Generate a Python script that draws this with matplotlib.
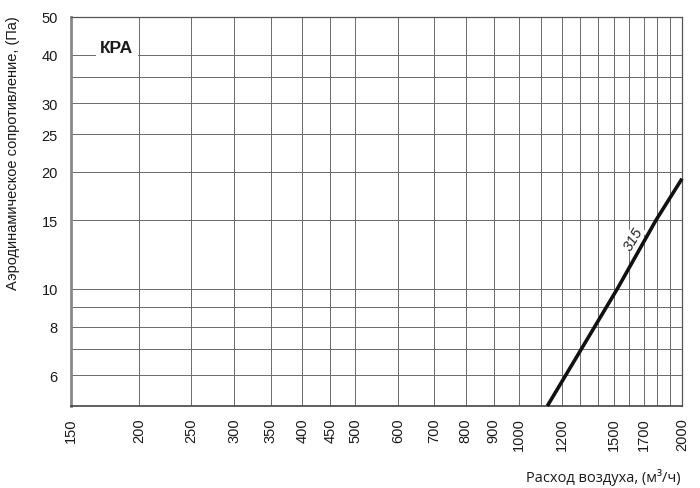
import numpy as np
import matplotlib
matplotlib.use("Agg")
import matplotlib.pyplot as plt
from matplotlib.ticker import FixedLocator, NullFormatter, FixedFormatter

# axis ticks
X_TICKS = [150, 200, 250, 300, 350, 400, 450, 500, 600, 700, 800, 900,
           1000, 1200, 1500, 1700, 2000]
X_MINOR = [1100, 1300, 1400, 1600, 1800, 1900]
Y_TICKS = [6, 8, 10, 15, 20, 25, 30, 40, 50]
Y_MINOR = [7, 9, 35]

# curve "315": air flow (m3/h) vs pressure drop (Pa)
flow_315 = [1130, 1520, 1790, 2000]
drop_315 = [5.0, 10.0, 15.0, 19.2]
label_315 = (1700, 13.0)

plt.rcParams["font.family"] = ["Liberation Sans", "DejaVu Sans"]

fig = plt.figure(figsize=(7, 4.89), dpi=100)
ax = fig.add_axes([0.1014, 0.1677, 0.8729, 0.7955])
ax.set_xscale("log")
ax.set_yscale("log")
ax.set_xlim(150, 2000)
ax.set_ylim(5, 50)

ax.xaxis.set_major_locator(FixedLocator(X_TICKS))
ax.xaxis.set_major_formatter(FixedFormatter([str(v) for v in X_TICKS]))
ax.xaxis.set_minor_locator(FixedLocator(X_MINOR))
ax.xaxis.set_minor_formatter(NullFormatter())
ax.yaxis.set_major_locator(FixedLocator(Y_TICKS))
ax.yaxis.set_major_formatter(FixedFormatter([str(v) for v in Y_TICKS]))
ax.yaxis.set_minor_locator(FixedLocator(Y_MINOR))
ax.yaxis.set_minor_formatter(NullFormatter())

ax.grid(True, which="both", color="#6a6a6a", linewidth=0.7)
ax.set_axisbelow(True)
ax.tick_params(which="both", length=0, labelsize=10.5, colors="#1a1a1a")
ax.tick_params(axis="x", labelrotation=90, pad=8)
ax.tick_params(axis="y", pad=9.5)

for side in ["top", "right"]:
    ax.spines[side].set_color("#555555")
    ax.spines[side].set_linewidth(0.9)
ax.spines["left"].set_color("#8a8a8a")
ax.spines["left"].set_linewidth(2.0)
ax.spines["bottom"].set_color("#444444")
ax.spines["bottom"].set_linewidth(1.2)

ax.plot(flow_315, drop_315, color="#111111", linewidth=2.6,
        solid_capstyle="butt", clip_on=False, zorder=3)

# rotate the curve label to follow the line on screen
p0 = ax.transData.transform((flow_315[0], drop_315[0]))
p1 = ax.transData.transform((flow_315[-1], drop_315[-1]))
angle = np.degrees(np.arctan2(p1[1] - p0[1], p1[0] - p0[0]))
off = 12 * np.array([-np.sin(np.radians(angle)), np.cos(np.radians(angle))])
ax.annotate("315", xy=label_315, xytext=(off[0], off[1]),
            textcoords="offset pixels", rotation=angle,
            rotation_mode="anchor", ha="center", va="center",
            fontsize=10.5, style="italic", color="#222222", zorder=4,
            bbox=dict(facecolor="white", edgecolor="none", pad=0.5))

ax.text(0.075, 0.922, "КРА", transform=ax.transAxes, ha="center",
        va="center", fontsize=12.5, fontweight="bold", color="#1a1a1a",
        zorder=4, bbox=dict(facecolor="white", edgecolor="none", pad=3))

ax.set_ylabel("Аэродинамическое сопротивление, (Па)", fontsize=10.5,
              color="#1a1a1a")
ax.yaxis.set_label_coords(-0.083, 0.653)
fig.text(0.972, 0.0225, "Расход воздуха, (м³/ч)", ha="right", va="center",
         fontsize=10.5, color="#1a1a1a", family=["Open Sans", "DejaVu Sans"])

fig.savefig("out.png", dpi=100)
